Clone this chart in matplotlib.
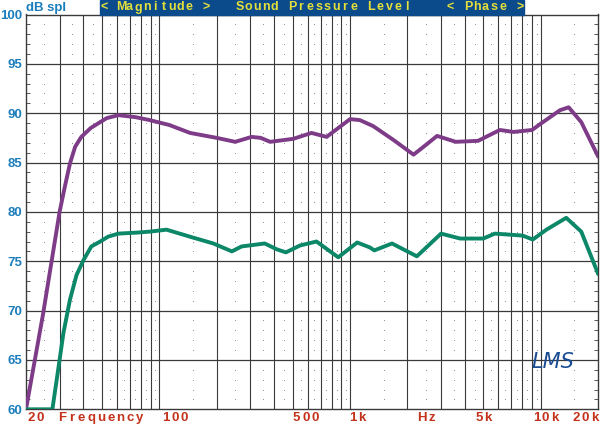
import numpy as np
import matplotlib.pyplot as plt

# data: frequency (Hz) -> dB spl
purple_freq = [20, 24.6, 30, 32, 34, 36.2, 39, 43.7, 49, 53, 61, 75, 89, 113, 145,
               200, 250, 305, 340, 381, 503, 628, 754, 802, 1000, 1126, 1320, 1686,
               2152, 2430, 2860, 3580, 4690, 6100, 7200, 9000, 10100, 12600, 14000,
               16300, 20000]
purple_db = [60, 69.7, 80, 82.6, 84.9, 86.6, 87.6, 88.5, 89.1, 89.5, 89.8, 89.6,
             89.3, 88.8, 88.0, 87.5, 87.1, 87.6, 87.5, 87.1, 87.4, 88.0, 87.6, 88.0,
             89.4, 89.3, 88.7, 87.3, 85.8, 86.6, 87.7, 87.1, 87.2, 88.3, 88.1, 88.3,
             89.0, 90.3, 90.6, 89.1, 85.6]

green_freq = [20, 27.5, 30, 31.4, 34, 36.8, 40, 44, 49, 54, 61, 76, 89, 109, 150,
              192, 240, 270, 357, 414, 461, 547, 667, 867, 1090, 1270, 1340, 1660,
              2240, 3000, 3780, 4990, 5740, 8030, 9080, 10700, 13600, 16300, 20000]
green_db = [60, 60, 65, 67.7, 71.1, 73.6, 75.1, 76.5, 77.0, 77.5, 77.8, 77.9, 78.0,
            78.2, 77.4, 76.8, 76.0, 76.5, 76.8, 76.2, 75.9, 76.6, 77.0, 75.4, 76.9,
            76.4, 76.1, 76.8, 75.5, 77.8, 77.3, 77.3, 77.8, 77.6, 77.2, 78.2, 79.4,
            78.0, 73.7]

y_ticks = [60, 65, 70, 75, 80, 85, 90, 95, 100]

# bottom row texts and header texts
x_labels = ["20", "Frequency", "100", "500", "1k", "Hz", "5k", "10k", "20k"]
header_labels = ["< Magnitude >", "Sound Pressure Level", "< Phase >"]

# colours
c_purple = '#7E3C88'
c_green = '#0C8767'
c_grid = '#3a3a3a'
c_blue = '#1B7DBB'
c_red = '#C4321C'
c_banner = '#0B4A8B'
c_yellow = '#E4DF3A'

plt.rcParams['font.family'] = ['Liberation Sans', 'DejaVu Sans']

fig = plt.figure(figsize=(6, 4.25), dpi=100)
W, H = 600, 425
x0, x1, y_top, y_bot = 26, 598.2, 14.5, 409.3
ax = fig.add_axes([x0 / W, 1 - y_bot / H, (x1 - x0) / W, (y_bot - y_top) / H])
ax.set_xscale('log')
ax.set_xlim(20, 20000)
ax.set_ylim(60, 100)


def spaced(text, xl, xr, y, **kw):
    """Spread the characters of text evenly between pixel xl and xr."""
    n = len(text)
    p = (xr - xl) / n
    for i, ch in enumerate(text):
        if ch != ' ':
            fig.text((xl + p * (i + 0.5)) / W, 1 - y / H, ch,
                     ha='center', va='center', **kw)


# grid lines
grid_freqs = sorted(set(m * 10 ** d for d in range(1, 5) for m in range(1, 10)
                        if 20 < m * 10 ** d < 20000))
for f in grid_freqs:
    ax.axvline(f, color=c_grid, lw=0.8, zorder=1)
for v in y_ticks[1:-1]:
    ax.axhline(v, color=c_grid, lw=0.9, zorder=1)

# dotted minor grid: midpoints in frequency, every dB
dot_x = [(m + 0.5) * 10 ** d for d in range(1, 4) for m in range(1, 10)
         if 20 < (m + 0.5) * 10 ** d < 20000] + [15000]
dot_y = [v for v in range(61, 100) if v % 5]
dx, dy = np.meshgrid(dot_x, dot_y)
ax.scatter(dx.ravel(), dy.ravel(), s=0.6, color='#888888', lw=0, zorder=1)

# curves
ax.plot(purple_freq, purple_db, color=c_purple, lw=2.8, zorder=3,
        solid_joinstyle='round', solid_capstyle='round')
ax.plot(green_freq, green_db, color=c_green, lw=2.8, zorder=3,
        solid_joinstyle='round', solid_capstyle='round')

for s in ax.spines.values():
    s.set_color(c_grid)
    s.set_linewidth(1.0)

ax.set_yticks(y_ticks)
ax.set_yticks(range(60, 101), minor=True)
ax.tick_params(axis='y', which='both', direction='in', length=3, width=0.6,
               color=c_grid, left=True, right=True, labelsize=9.5,
               labelcolor=c_blue, pad=3)
ax.tick_params(axis='y', which='major', length=0)
for lab in ax.get_yticklabels():
    lab.set_fontweight('bold')
ax.set_xticks([])
ax.set_xticks([], minor=True)

# bottom annotation row (pixel spans)
bottom_spans = [(27, 44), (57, 145), (161, 189), (292, 320), (348, 366),
                (417, 437), (474, 493), (532, 559), (572, 599)]
for txt, (xl, xr) in zip(x_labels, bottom_spans):
    spaced(txt, xl, xr, 418, color=c_red, fontsize=9.5, fontweight='bold')

# header
fig.text(x0 / W, 1 - 7.5 / H, "dB spl", color=c_blue, fontsize=9.5,
         fontweight='bold', va='center', ha='left')
fig.patches.append(plt.Rectangle((100 / W, 1 - 14.5 / H), 424 / W, 14.5 / H,
                                 transform=fig.transFigure, color=c_banner,
                                 zorder=0))
header_spans = [(100, 210), (235, 411), (446, 525)]
for txt, (xl, xr) in zip(header_labels, header_spans):
    spaced(txt, xl, xr, 7.5, color=c_yellow, fontsize=9, fontweight='bold')

# logo
fig.text(553 / W, 1 - 362 / H, "LMS", color='#1A4C93', fontsize=15,
         style='italic', ha='center', va='center', family='DejaVu Sans')

fig.savefig('out.png', dpi=100)
